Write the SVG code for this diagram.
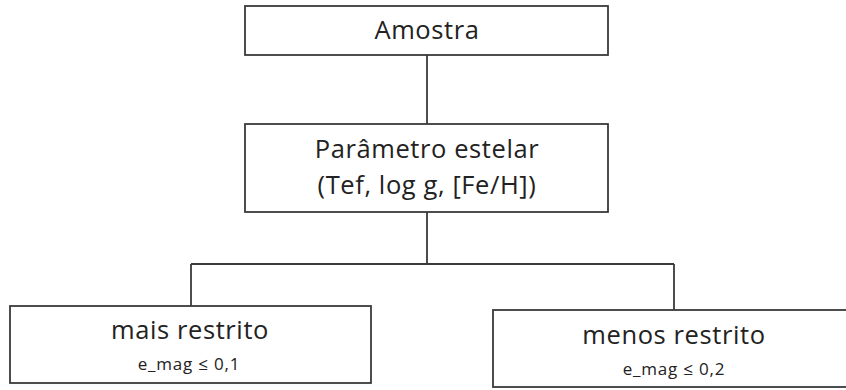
<svg xmlns="http://www.w3.org/2000/svg" width="846" height="390" viewBox="0 0 846 390">
  <style>
    .box { fill: #ffffff; stroke: #3a3a3a; stroke-width: 1.8; }
    .link { fill: none; stroke: #3a3a3a; stroke-width: 1.8; }
    .t { font-family: "Open Sans", "Noto Sans", sans-serif; fill: #222222; text-anchor: middle; }
    .big { font-size: 25.5px; letter-spacing: 0.6px; }
    .small { font-size: 17px; letter-spacing: 0.8px; }
  </style>
  <rect width="846" height="390" fill="#ffffff"/>
  <g id="connectors">
    <path class="link" d="M427 55 V124"/>
    <path class="link" d="M427 212 V264 M191 264 H674 M191 264 V306 M674 264 V310"/>
  </g>
  <g id="amostra">
    <rect class="box" x="245" y="6" width="363" height="49"/>
    <text class="t big" x="427" y="39">Amostra</text>
  </g>
  <g id="parametro">
    <rect class="box" x="245" y="124" width="363" height="88"/>
    <text class="t big" x="427" y="158">Parâmetro estelar</text>
    <text class="t big" x="427" y="194">(Tef, log g, [Fe/H])</text>
  </g>
  <g id="mais-restrito">
    <rect class="box" x="10" y="306" width="361" height="77"/>
    <text class="t big" x="190" y="339">mais restrito</text>
    <text class="t small" x="189" y="370">e_mag ≤ 0,1</text>
  </g>
  <g id="menos-restrito">
    <rect class="box" x="493" y="310" width="365" height="77"/>
    <text class="t big" x="674" y="344">menos restrito</text>
    <text class="t small" x="674" y="375">e_mag ≤ 0,2</text>
  </g>
</svg>
